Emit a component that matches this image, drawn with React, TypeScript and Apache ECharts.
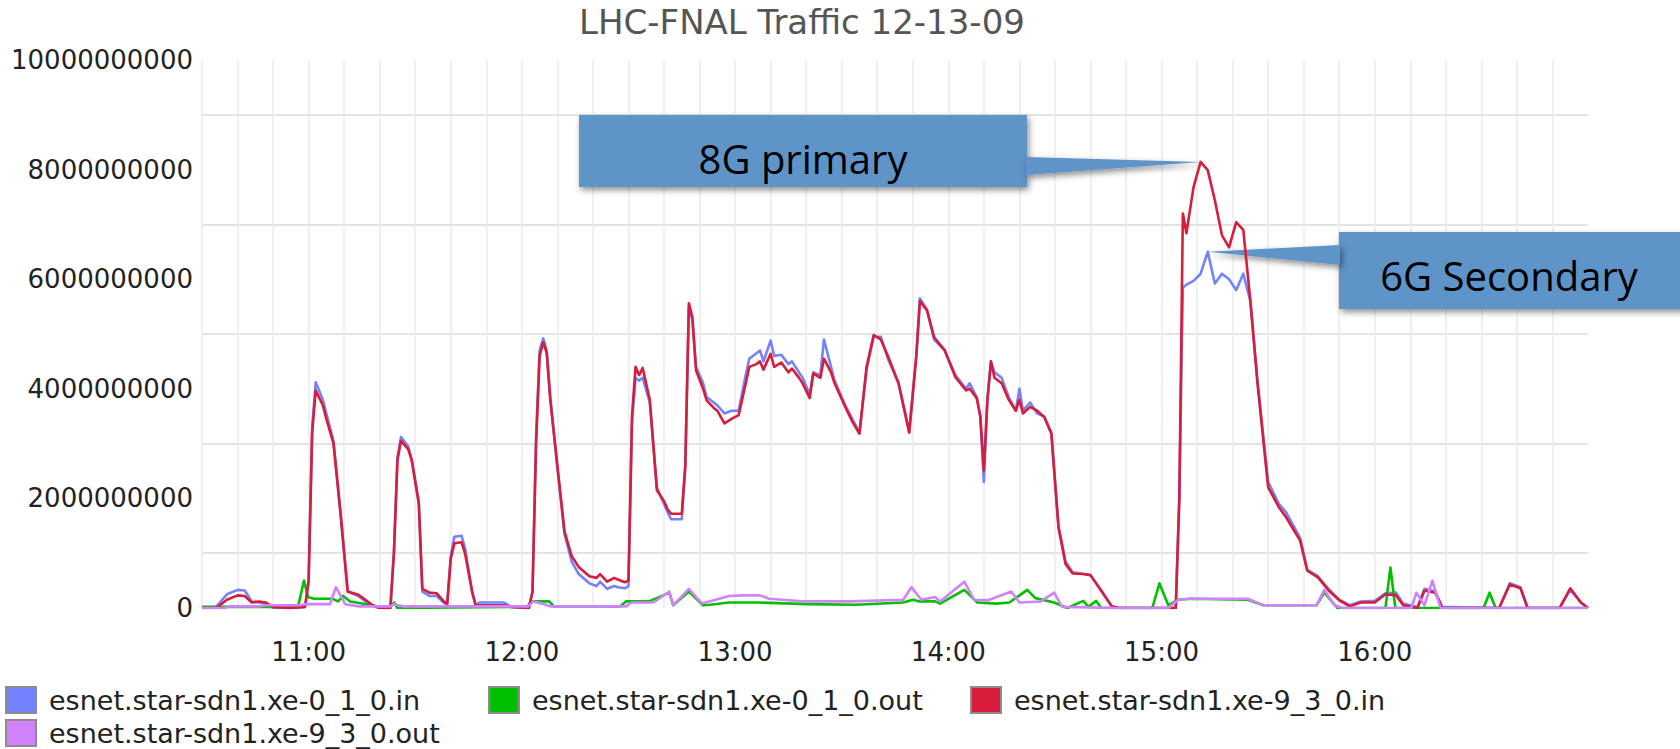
import React, { useEffect, useRef } from "react";
import * as echarts from "echarts";

const TITLE = "LHC-FNAL Traffic 12-13-09";
const SERIES_NAMES = [
  "esnet.star-sdn1.xe-0_1_0.in",
  "esnet.star-sdn1.xe-0_1_0.out",
  "esnet.star-sdn1.xe-9_3_0.in",
  "esnet.star-sdn1.xe-9_3_0.out",
];
const SERIES_COLORS = ["#7383ff", "#00c000", "#d81c3c", "#d282ff"];

// x axis: minutes since midnight (10:30 .. 17:00); y axis: Gbit/s
const X_MIN = 630;
const X_MAX = 1020;
const HOUR_LABELS = ["11:00", "12:00", "13:00", "14:00", "15:00", "16:00"];
const HOUR_VALUES = [660, 720, 780, 840, 900, 960];
const Y_TICK_VALUES = [0, 2, 4, 6, 8, 10];
const Y_TICK_LABELS = ["0", "2000000000", "4000000000", "6000000000", "8000000000", "10000000000"];

// xe-0_1_0.in (blue) and xe-9_3_0.in (red) share sample times
const IN_T = [
  630, 634, 637, 640, 642, 644, 646, 648, 650, 655,
  659, 660, 661, 662, 664, 665, 667, 669, 671, 674,
  676, 678, 680, 683, 684, 685, 686, 688, 689, 691,
  692, 694, 696, 698, 699, 700, 701, 703, 704, 706,
  707, 708, 715, 717, 722, 723, 724, 725, 726, 727,
  728, 730, 732, 734, 736, 739, 741, 742, 744, 746,
  747, 749, 750, 751, 752, 753, 754, 756, 758, 760,
  761, 762, 765, 766, 767, 768, 769, 771, 772, 774,
  775, 777, 779, 781, 783, 784, 786, 787, 788, 790,
  791, 793, 795, 796, 798, 799, 801, 802, 804, 805,
  807, 808, 811, 813, 815, 817, 819, 821, 823, 826,
  829, 831, 832, 834, 836, 839, 842, 845, 846, 848,
  849, 850, 851, 852, 853, 855, 857, 859, 860, 861,
  863, 865, 867, 869, 871, 873, 875, 878, 880, 883,
  886, 888, 904, 905, 906, 907, 909, 911, 913, 915,
  917, 919, 921, 923, 925, 927, 930, 933, 935, 939,
  941, 944, 947, 950, 953, 956, 960, 963, 966, 968,
  972, 974, 977, 979, 995, 998, 1001, 1003, 1012, 1015,
  1018, 1020,
];
const RED_IN = [
  0, 0, 0.15, 0.23, 0.22, 0.1, 0.12, 0.1, 0.02, 0,
  0.02, 0.5, 3.2, 3.97, 3.7, 3.45, 3.0, 1.7, 0.3, 0.24,
  0.15, 0.05, 0, 0, 1.0, 2.7, 3.05, 2.9, 2.7, 1.9,
  0.35, 0.28, 0.27, 0.12, 0.08, 0.9, 1.18, 1.2, 1.0, 0.3,
  0.05, 0.05, 0.05, 0.02, 0, 0.3, 3.0, 4.6, 4.85, 4.65,
  3.8, 2.6, 1.4, 0.95, 0.75, 0.58, 0.55, 0.62, 0.48, 0.55,
  0.52, 0.47, 0.5, 3.5, 4.4, 4.25, 4.38, 3.8, 2.15, 1.95,
  1.8, 1.72, 1.72, 2.6, 5.56, 5.3, 4.34, 4.0, 3.79, 3.65,
  3.6, 3.37, 3.45, 3.52, 4.1, 4.4, 4.45, 4.5, 4.35, 4.64,
  4.4, 4.48, 4.3, 4.37, 4.2, 4.1, 3.83, 4.28, 4.2, 4.55,
  4.3, 4.1, 3.67, 3.4, 3.18, 4.4, 4.98, 4.9, 4.6, 4.1,
  3.2, 4.6, 5.6, 5.43, 4.94, 4.7, 4.21, 3.97, 4.0, 3.83,
  3.5, 2.51, 3.8, 4.5, 4.2, 4.1, 3.8, 3.6, 3.8, 3.55,
  3.67, 3.6, 3.48, 3.18, 1.47, 0.8, 0.63, 0.62, 0.6, 0.32,
  0.03, 0, 0, 2.0, 7.2, 6.84, 7.68, 8.14, 7.99, 7.44,
  6.8, 6.58, 7.04, 6.9, 5.6, 4.1, 2.2, 1.84, 1.66, 1.23,
  0.68, 0.56, 0.32, 0.14, 0.03, 0.1, 0.1, 0.25, 0.23, 0.05,
  0, 0.32, 0.28, 0, 0, 0.43, 0.36, 0, 0, 0.36,
  0.1, 0,
];
const BLUE_IN = [
  0, 0.02, 0.25, 0.33, 0.32, 0.12, 0.1, 0.08, 0, 0,
  0.02, 0.5, 3.3, 4.12, 3.8, 3.55, 3.05, 1.75, 0.3, 0.22,
  0.12, 0.04, 0, 0, 1.0, 2.75, 3.12, 2.95, 2.72, 1.95,
  0.3, 0.22, 0.22, 0.1, 0.06, 0.95, 1.3, 1.32, 1.1, 0.3,
  0.05, 0.1, 0.1, 0.02, 0, 0.3, 3.1, 4.7, 4.92, 4.7,
  3.85, 2.55, 1.35, 0.85, 0.62, 0.45, 0.4, 0.48, 0.35, 0.4,
  0.38, 0.36, 0.4, 3.4, 4.2, 4.15, 4.2, 3.75, 2.2, 1.9,
  1.75, 1.62, 1.62, 2.6, 5.5, 5.25, 4.4, 4.1, 3.85, 3.75,
  3.7, 3.55, 3.6, 3.6, 4.25, 4.55, 4.65, 4.7, 4.5, 4.88,
  4.6, 4.62, 4.45, 4.5, 4.3, 4.2, 3.9, 4.3, 4.25, 4.9,
  4.4, 4.15, 3.7, 3.45, 3.2, 4.35, 4.95, 4.95, 4.55, 4.1,
  3.22, 4.6, 5.65, 5.45, 4.9, 4.7, 4.25, 4.0, 4.1, 3.85,
  3.5, 2.3, 3.8, 4.5, 4.3, 4.2, 3.85, 3.6, 4.0, 3.6,
  3.75, 3.55, 3.5, 3.2, 1.5, 0.85, 0.65, 0.62, 0.6, 0.32,
  0.03, 0, 0, 2.0, 5.85, 5.9, 5.97, 6.1, 6.5, 5.92,
  6.1, 6.0, 5.8, 6.1, 5.6, 4.15, 2.3, 1.9, 1.75, 1.28,
  0.7, 0.58, 0.35, 0.15, 0.05, 0.12, 0.13, 0.27, 0.28, 0.08,
  0.02, 0.35, 0.3, 0.02, 0, 0.45, 0.38, 0, 0, 0.33,
  0.1, 0,
];

// xe-0_1_0.out (green)
const GREEN_T = [
  630, 643, 657, 658.7, 659.8, 661.5, 666.6, 668.3, 669.7, 671.7,
  677.9, 679.8, 683, 684, 685, 721.5, 722.6, 727.7, 729, 747.7,
  749.3, 755.8, 761.5, 762.6, 767, 771, 773, 778.3, 786.5, 800.3,
  813.8, 827.3, 830, 832, 836.3, 837.7, 844.5, 848.2, 853.5, 857.2,
  862.2, 864.5, 869.8, 873.5, 878, 879.4, 881.6, 883, 897.4, 899.4,
  901.9, 904.7, 908, 924.2, 928.7, 943.6, 945.8, 949.5, 963, 964.4,
  965.8, 990.6, 992.3, 994, 1020,
];
const GREEN_OUT = [
  0.02, 0.02, 0.02, 0.5, 0.2, 0.17, 0.17, 0.12, 0.22, 0.12,
  0.05, 0.02, 0.02, 0.1, 0, 0.02, 0.12, 0.12, 0.03, 0.03,
  0.12, 0.12, 0.28, 0.05, 0.3, 0.05, 0.06, 0.1, 0.1, 0.07,
  0.06, 0.1, 0.15, 0.12, 0.12, 0.08, 0.33, 0.1, 0.08, 0.1,
  0.33, 0.18, 0.1, 0, 0.13, 0.02, 0.13, 0, 0, 0.45,
  0.05, 0.15, 0.17, 0.15, 0.05, 0.05, 0.28, 0, 0, 0.74,
  0, 0, 0.28, 0, 0,
];

// xe-9_3_0.out (violet)
const VIOLET_T = [
  630, 636.5, 637.6, 646.3, 647.7, 657.6, 659, 666, 667.7, 670.3,
  674.2, 683, 684, 686.6, 721.8, 723.2, 725.7, 728, 749.3, 750.8,
  757, 761.5, 762.6, 767, 770.7, 778.3, 782, 787, 789.6, 799.7,
  812.4, 827.3, 829.6, 832.4, 836.3, 837.7, 844.5, 847.3, 851.2, 857.7,
  860, 866, 869.8, 872, 887, 901.9, 904.7, 907.8, 924.2, 928.7,
  943.6, 945.8, 948.6, 950.9, 970.3, 971.7, 974, 976.2, 978.5, 1020,
];
const VIOLET_OUT = [
  0, 0, 0.03, 0.03, 0.05, 0.05, 0.07, 0.07, 0.38, 0.07,
  0.03, 0.03, 0.07, 0.03, 0.03, 0.12, 0.08, 0.03, 0.03, 0.1,
  0.1, 0.3, 0.05, 0.35, 0.08, 0.22, 0.23, 0.23, 0.17, 0.12,
  0.12, 0.15, 0.38, 0.15, 0.2, 0.12, 0.48, 0.15, 0.14, 0.3,
  0.1, 0.12, 0.28, 0.02, 0, 0, 0.15, 0.17, 0.17, 0.05,
  0.05, 0.33, 0.05, 0, 0, 0.28, 0.05, 0.5, 0, 0,
];

const CALLOUT_1 = "8G primary";
const CALLOUT_2 = "6G Secondary";
const BOX_COLOR = "#5e94c8";

const pairs = (t: number[], v: number[]) => t.map((x, i) => [x, v[i]]);

export default function App() {
  const ref = useRef<HTMLDivElement>(null);

  useEffect(() => {
    if (!ref.current) return;
    const chart = echarts.init(ref.current, undefined, { renderer: "svg" });
    const seriesData = [
      pairs(IN_T, BLUE_IN),
      pairs(GREEN_T, GREEN_OUT),
      pairs(IN_T, RED_IN),
      pairs(VIOLET_T, VIOLET_OUT),
    ];
    const font = "DejaVu Sans";
    const legendBase = {
      orient: "horizontal" as const,
      icon: "rect",
      itemWidth: 30,
      itemHeight: 26,
      itemGap: 0,
      padding: 0,
      selectedMode: false,
      itemStyle: { borderColor: "#8c8c8c", borderWidth: 2 },
      textStyle: {
        fontFamily: font,
        fontSize: 27,
        lineHeight: 27,
        color: "#222",
        padding: [0, 0, 0, 8],
      },
    };
    chart.setOption({
      animation: false,
      backgroundColor: "#ffffff",
      title: {
        text: TITLE,
        left: 797,
        top: 0,
        textAlign: "center",
        textStyle: { fontFamily: font, fontSize: 34, fontWeight: "normal", color: "#555" },
      },
      legend: [
        { ...legendBase, data: [SERIES_NAMES[0]], left: 5, top: 686 },
        { ...legendBase, data: [SERIES_NAMES[1]], left: 488, top: 686 },
        { ...legendBase, data: [SERIES_NAMES[2]], left: 970, top: 686 },
        { ...legendBase, data: [SERIES_NAMES[3]], left: 5, top: 719 },
      ],
      grid: { left: 202, right: 92, top: 60, bottom: 141, outerBoundsMode: "none", containLabel: false },
      xAxis: {
        type: "value",
        min: X_MIN,
        max: X_MAX,
        interval: 10,
        axisLine: { show: false },
        axisTick: { show: false },
        splitLine: { show: true, showMaxLine: false, lineStyle: { color: "#ebebeb", width: 1.5 } },
        axisLabel: {
          margin: 31,
          fontFamily: font,
          fontSize: 26,
          color: "#222",
          showMinLabel: true,
          showMaxLabel: true,
          formatter: (v: number) => {
            const i = HOUR_VALUES.indexOf(v);
            return i >= 0 ? HOUR_LABELS[i] : "";
          },
        },
      },
      yAxis: {
        type: "value",
        min: 0,
        max: 10,
        interval: 1,
        axisLine: { show: false },
        axisTick: { show: false },
        splitLine: {
          show: true,
          lineStyle: { color: ["rgba(0,0,0,0)", "#e3e3e3"], width: 2 },
        },
        axisLabel: {
          margin: 9,
          fontFamily: font,
          fontSize: 26,
          color: "#222",
          formatter: (v: number) => {
            const i = Y_TICK_VALUES.indexOf(v);
            return i >= 0 ? Y_TICK_LABELS[i] : "";
          },
        },
      },
      series: SERIES_NAMES.map((name, i) => ({
        name,
        type: "line",
        data: seriesData[i],
        symbol: "none",
        showSymbol: false,
        lineStyle: { width: 2.6, color: SERIES_COLORS[i], join: "round" },
        itemStyle: { color: SERIES_COLORS[i] },
        z: 2 + i,
      })),
    });

    // Callout tips anchored on the red (primary) and blue (secondary) peaks
    const redMax = RED_IN.indexOf(Math.max(...RED_IN));
    const blueMax = BLUE_IN.indexOf(Math.max(...BLUE_IN));
    const tip1 = chart.convertToPixel({ gridIndex: 0 }, [IN_T[redMax], RED_IN[redMax]]) as number[];
    const tip2 = chart.convertToPixel({ gridIndex: 0 }, [IN_T[blueMax], BLUE_IN[blueMax]]) as number[];
    const shadow = {
      shadowBlur: 6,
      shadowOffsetX: 2,
      shadowOffsetY: 3,
      shadowColor: "rgba(0,0,0,0.45)",
    };
    chart.setOption({
      graphic: [
        {
          type: "group",
          z: 100,
          children: [
            { type: "rect", shape: { x: 579, y: 115, width: 448, height: 72 }, style: { fill: BOX_COLOR, ...shadow } },
            {
              type: "polygon",
              shape: { points: [[1026, 157], [tip1[0], tip1[1]], [1026, 175]] },
              style: { fill: BOX_COLOR, ...shadow },
            },
            {
              type: "text",
              x: 803,
              y: 158,
              style: {
                text: CALLOUT_1,
                fontFamily: "Open Sans",
                fontSize: 40,
                fill: "#000",
                align: "center",
                verticalAlign: "middle",
              },
            },
            { type: "rect", shape: { x: 1339, y: 232, width: 400, height: 77 }, style: { fill: BOX_COLOR, ...shadow } },
            {
              type: "polygon",
              shape: { points: [[1340, 245], [tip2[0], tip2[1]], [1340, 265]] },
              style: { fill: BOX_COLOR, ...shadow },
            },
            {
              type: "text",
              x: 1509,
              y: 275,
              style: {
                text: CALLOUT_2,
                fontFamily: "Open Sans",
                fontSize: 40,
                fill: "#000",
                align: "center",
                verticalAlign: "middle",
              },
            },
          ],
        },
      ],
    });

    return () => chart.dispose();
  }, []);

  return (
    <div
      ref={ref}
      style={{ position: "fixed", left: 0, top: 0, width: "1680px", height: "749px", background: "#fff" }}
    />
  );
}
